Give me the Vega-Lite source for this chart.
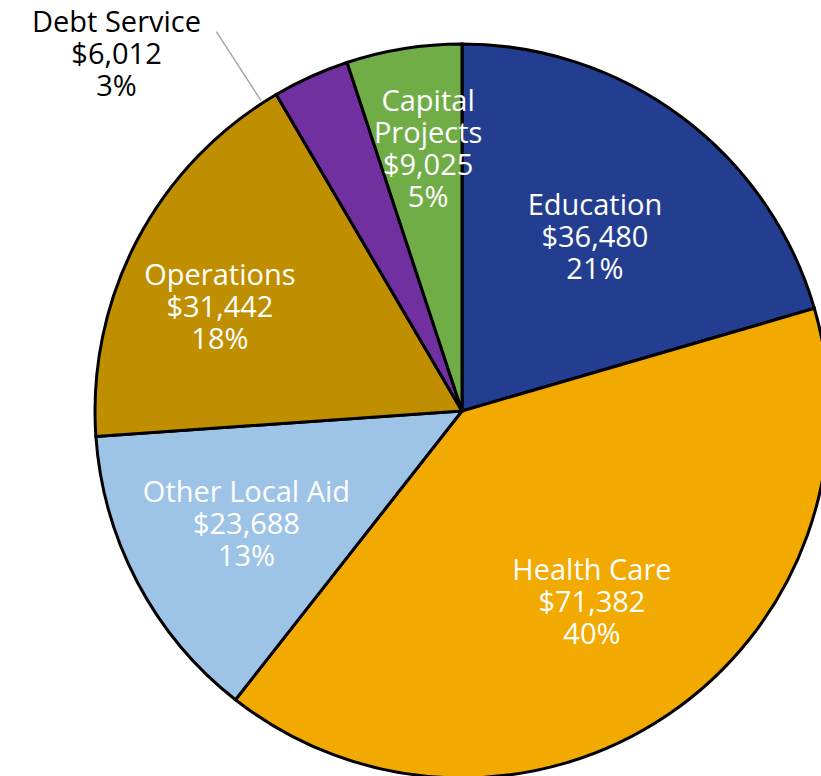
{
  "$schema": "https://vega.github.io/schema/vega-lite/v6.json",
  "width": 924,
  "height": 822,
  "autosize": {"type": "none"},
  "padding": 0,
  "background": "white",
  "config": {"view": {"stroke": null}},
  "data": {
    "values": [
      {"category": "Education", "label": "Education", "value": 36480, "pct": 21, "order": 1},
      {"category": "Health Care", "label": "Health Care", "value": 71382, "pct": 40, "order": 2},
      {"category": "Other Local Aid", "label": "Other Local Aid", "value": 23688, "pct": 13, "order": 3},
      {"category": "Operations", "label": "Operations", "value": 31442, "pct": 18, "order": 4},
      {"category": "Debt Service", "label": "Debt Service", "value": 6012, "pct": 3, "order": 5},
      {"category": "Capital Projects", "label": "Capital\nProjects", "value": 9025, "pct": 5, "order": 6}
    ]
  },
  "transform": [
    {"calculate": "datum.label + '\\n$' + format(datum.value, ',') + '\\n' + datum.pct + '%'", "as": "text"}
  ],
  "encoding": {
    "theta": {"field": "value", "type": "quantitative", "stack": true},
    "order": {"field": "order", "type": "quantitative"}
  },
  "layer": [
    {
      "mark": {"type": "arc", "outerRadius": 367, "stroke": "black", "strokeWidth": 3},
      "encoding": {
        "color": {
          "field": "category",
          "type": "nominal",
          "scale": {
            "domain": ["Education", "Health Care", "Other Local Aid", "Operations", "Debt Service", "Capital Projects"],
            "range": ["#233E90", "#F2A900", "#9DC3E6", "#BF8F00", "#7030A0", "#70AD47"]
          },
          "legend": null
        }
      }
    },
    {
      "mark": {"type": "arc", "filled": false, "radius": 452, "radius2": 370, "padAngle": 1, "thetaOffset": -0.15, "stroke": "#A6A6A6", "strokeWidth": 1.5},
      "encoding": {
        "strokeOpacity": {"condition": {"test": "datum.category === 'Debt Service'", "value": 1}, "value": 0}
      }
    },
    {
      "mark": {
        "type": "text",
        "font": "Open Sans",
        "fontSize": 29,
        "lineBreak": "\n",
        "lineHeight": 32,
        "align": "center",
        "baseline": "middle",
        "dy": {"expr": "datum.category === 'Capital Projects' ? -48 : -32"},
        "radius": {"expr": "datum.category === 'Education' ? 218 : datum.category === 'Health Care' ? 232 : datum.category === 'Other Local Aid' ? 244 : datum.category === 'Debt Service' ? 496 : 263"},
        "thetaOffset": {"expr": "datum.category === 'Debt Service' ? -0.346 : datum.category === 'Capital Projects' ? 0.03 : datum.category === 'Operations' ? -0.084 : datum.category === 'Education' ? 0.012 : 0"}
      },
      "encoding": {
        "text": {"field": "text", "type": "nominal"},
        "fill": {"condition": {"test": "datum.category === 'Debt Service'", "value": "black"}, "value": "white"}
      }
    }
  ]
}
